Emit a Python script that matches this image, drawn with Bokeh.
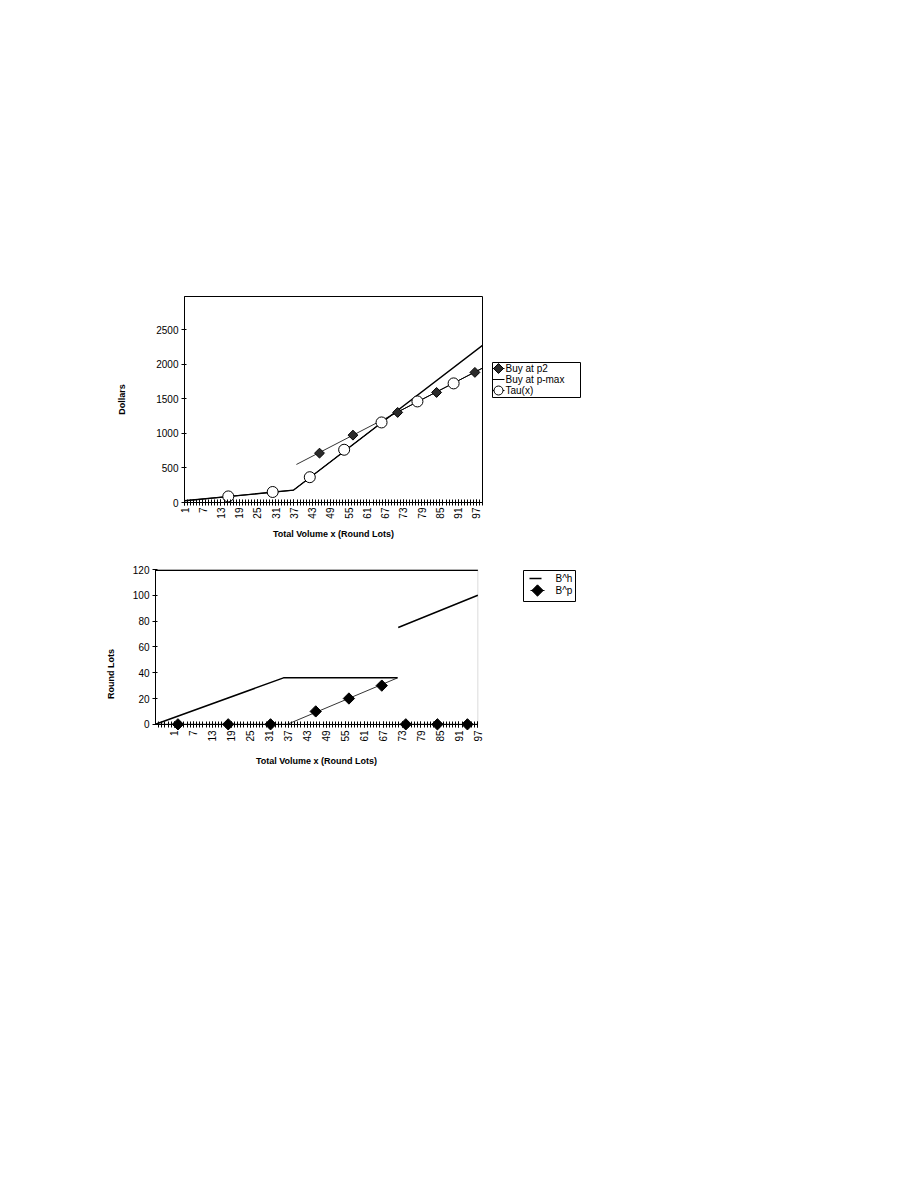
import math
import numpy as np
from bokeh.plotting import figure
from bokeh.models import Range1d, FixedTicker, BoxAnnotation
from bokeh.layouts import column, row
from bokeh.core.properties import value
from bokeh.embed import file_html
from bokeh.resources import INLINE

FONT = "Liberation Sans"

# ---------------- data: upper chart (Dollars) ----------------
top_tick_labels = [1, 7, 13, 19, 25, 31, 37, 43, 49, 55, 61, 67, 73, 79, 85, 91, 97]
top_y_ticks = [0, 500, 1000, 1500, 2000, 2500]

pmax_x = [1, 36.8, 99]
pmax_y = [25, 178, 2273]

p2_line_x = [37.8, 99]
p2_line_y = [550, 1944]
p2_mark_x = [45.4, 56.4, 71.1, 83.9, 96.5]
p2_mark_y = [714, 974, 1303, 1592, 1882]

tau_line_x = [1, 36.8, 68.8, 99]
tau_line_y = [25, 178, 1256, 1944]
tau_mark_x = [15.4, 30.0, 42.2, 53.5, 65.8, 77.6, 89.5]
tau_mark_y = [88, 152, 366, 763, 1158, 1462, 1723]

top_legend_labels = ["Buy at p2", "Buy at p-max", "Tau(x)"]

# ---------------- data: lower chart (Round Lots) ----------------
bot_tick_labels = [1, 7, 13, 19, 25, 31, 37, 43, 49, 55, 61, 67, 73, 79, 85, 91, 97]
bot_y_ticks = [0, 20, 40, 60, 80, 100, 120]

bh_x = [-5, 35.5, 71.6, float("nan"), 71.8, 97]
bh_y = [0, 36, 36, float("nan"), 75, 100]

bp_line_x = [-5, 36.7, 71.6, float("nan"), 71.8, 97]
bp_line_y = [0, 0, 36, float("nan"), 0, 0]
bp_mark_x = [2.1, 18.0, 31.4, 45.7, 56.2, 66.6, 74.2, 84.2, 93.7]
bp_mark_y = [0, 0, 0, 10, 20, 30, 0, 0, 0]

bot_legend_labels = ["B^h", "B^p"]

# ---------------- layout constants (page pixels) ----------------
TOP_H = 552
T_LEFT, T_TOP, T_W, T_H = 184, 296, 298, 206
# lower chart: x -5..97 spans 322 px; frame extended a little to the right and
# downwards so that the tick labels / title of the zero-line axis are not clipped
B_LEFT, B_TOP = 155, 17
B_XMIN, B_XMAX, B_XEND = -5, 97, 101
B_YMIN, B_YMAX = -42, 120
PX_X = 322 / (B_XMAX - B_XMIN)
PX_Y = 155 / 120
B_W = round((B_XEND - B_XMIN) * PX_X)
B_H = round((B_YMAX - B_YMIN) * PX_Y)
BOT_BOTTOM = 10
BOT_H = B_TOP + B_H + BOT_BOTTOM


def style_axes(p):
    p.xgrid.visible = False
    p.ygrid.visible = False
    p.background_fill_color = "white"
    p.border_fill_color = "white"
    for ax in p.axis:
        ax.axis_line_color = "black"
        ax.major_tick_line_color = "black"
        ax.minor_tick_line_color = "black"
        ax.major_label_text_font = FONT
        ax.major_label_text_font_size = "10px"
        ax.major_label_text_color = "black"
        ax.axis_label_text_font = FONT
        ax.axis_label_text_font_size = "9px"
        ax.axis_label_text_font_style = "bold"
        ax.axis_label_text_color = "black"


def legend_fig(width, height, top, bottom, frame_h):
    f = figure(width=width, height=height, x_range=Range1d(0, width),
               y_range=Range1d(frame_h, 0), x_axis_type=None, y_axis_type=None,
               toolbar_location=None, output_backend="svg", min_border_left=0,
               min_border_right=0, min_border_top=top, min_border_bottom=bottom,
               outline_line_color=None)
    f.background_fill_color = "white"
    f.border_fill_color = "white"
    return f


# ================= upper chart =================
p1 = figure(width=T_LEFT + T_W + 2, height=TOP_H, x_range=Range1d(1, 99),
            y_range=Range1d(0, 2980), output_backend="svg", toolbar_location=None,
            min_border_left=T_LEFT, min_border_right=2, min_border_top=T_TOP,
            min_border_bottom=TOP_H - T_TOP - T_H)
style_axes(p1)
p1.outline_line_color = "black"
p1.outline_line_width = 1

xa = p1.xaxis[0]
xa.ticker = FixedTicker(ticks=top_tick_labels, minor_ticks=list(range(1, 100)))
xa.major_label_orientation = math.pi / 2
xa.major_tick_in = 3
xa.major_tick_out = 3
xa.minor_tick_in = 3
xa.minor_tick_out = 3
xa.major_label_standoff = 2
xa.axis_label = "Total Volume x (Round Lots)"
xa.axis_label_standoff = 7

ya = p1.yaxis[0]
ya.ticker = FixedTicker(ticks=top_y_ticks)
ya.major_tick_in = 2
ya.major_tick_out = 3
ya.minor_tick_line_color = None
ya.major_label_standoff = 3
ya.axis_label = "Dollars"
ya.axis_label_standoff = 26

p1.line(pmax_x, pmax_y, line_color="black", line_width=1.3)
p1.line(p2_line_x, p2_line_y, line_color="black", line_width=0.8)
p1.line(tau_line_x, tau_line_y, line_color="black", line_width=1)
p1.scatter(p2_mark_x, p2_mark_y, marker="square", angle=math.pi / 4, size=7,
           fill_color="#2b2b2b", line_color="black", line_width=1)
p1.scatter(tau_mark_x, tau_mark_y, marker="circle", size=11,
           fill_color="white", line_color="black", line_width=1)

# legend of upper chart (own panel, frame aligned with the chart frame)
l1 = legend_fig(110, TOP_H, T_TOP, TOP_H - T_TOP - T_H, T_H)
l1.quad(left=[8], right=[96], top=[66], bottom=[101], fill_color="white",
        line_color="black", line_width=1)
rows1 = [72, 83, 94]
l1.segment(x0=[8, 8, 8], y0=rows1, x1=[20, 20, 20], y1=rows1,
           line_color="black", line_width=1)
l1.scatter([14], [rows1[0]], marker="square", angle=math.pi / 4, size=7,
           fill_color="#2b2b2b", line_color="black")
l1.scatter([14], [rows1[2]], marker="circle", size=9, fill_color="white",
           line_color="black")
l1.text(x=[21, 21, 21], y=rows1, text=top_legend_labels, text_font=value(FONT),
        text_font_size="10px", text_baseline="middle", text_align="left",
        text_color="black")

# ================= lower chart =================
p2 = figure(width=B_LEFT + B_W + 2, height=BOT_H, x_range=Range1d(B_XMIN, B_XEND),
            y_range=Range1d(B_YMIN, B_YMAX), output_backend="svg", toolbar_location=None,
            min_border_left=B_LEFT, min_border_right=2, min_border_top=B_TOP,
            min_border_bottom=BOT_BOTTOM)
style_axes(p2)
p2.outline_line_color = None

xb = p2.xaxis[0]
xb.fixed_location = 0
xb.bounds = (B_XMIN, B_XMAX)
xb.ticker = FixedTicker(ticks=bot_tick_labels, minor_ticks=list(range(-4, 98)))
xb.major_label_orientation = math.pi / 2
xb.major_tick_in = 3
xb.major_tick_out = 3
xb.minor_tick_in = 3
xb.minor_tick_out = 3
xb.major_label_standoff = 3
xb.axis_label = "Total Volume x (Round Lots)"
xb.axis_label_standoff = 11

yb = p2.yaxis[0]
yb.ticker = FixedTicker(ticks=bot_y_ticks)
yb.bounds = (0, 120)
yb.major_tick_in = 2
yb.major_tick_out = 3
yb.minor_tick_line_color = None
yb.major_label_standoff = 3
yb.axis_label = "Round Lots"
yb.axis_label_standoff = 14

# plot border: thin grey box, heavier black top edge
p2.add_layout(BoxAnnotation(left=B_XMIN, right=B_XMAX, bottom=0, top=B_YMAX,
                            fill_alpha=0, line_color="#888888", line_width=1,
                            level="underlay"))
p2.add_layout(BoxAnnotation(left=B_XMIN, right=B_XMAX, bottom=B_YMAX - 1.2, top=B_YMAX,
                            fill_color="black", fill_alpha=1, line_alpha=0))

p2.line(np.array(bh_x, dtype=float), np.array(bh_y, dtype=float),
        line_color="black", line_width=1.5)
p2.line(np.array(bp_line_x, dtype=float), np.array(bp_line_y, dtype=float),
        line_color="black", line_width=0.8)
p2.scatter(bp_mark_x, bp_mark_y, marker="square", angle=math.pi / 4, size=8,
           fill_color="black", line_color="black")

L2_X0 = B_LEFT + B_W + 2          # page x of the legend panel
l2 = legend_fig(600 - L2_X0, BOT_H, B_TOP, BOT_BOTTOM, B_H)
bx = 523 - L2_X0
l2.quad(left=[bx], right=[bx + 52], top=[1], bottom=[32], fill_color="white",
        line_color="black", line_width=1)
rows2 = [9, 21]
l2.segment(x0=[bx + 6, bx + 7], y0=rows2, x1=[bx + 18, bx + 21], y1=rows2,
           line_color="black", line_width=[1.5, 1])
l2.scatter([bx + 14], [rows2[1]], marker="square", angle=math.pi / 4, size=8,
           fill_color="black", line_color="black")
l2.text(x=[bx + 32, bx + 32], y=rows2, text=bot_legend_labels, text_font=value(FONT),
        text_font_size="10px", text_baseline="middle", text_align="left",
        text_color="black")

layout = column(row(p1, l1, spacing=0), row(p2, l2, spacing=0), spacing=0)

open("out.html", "w").write(file_html(layout, INLINE))
